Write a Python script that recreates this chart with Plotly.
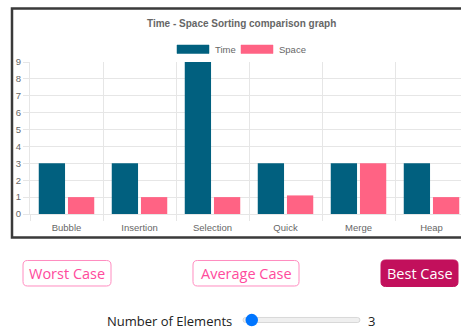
import plotly.graph_objects as go

categories = ["Bubble", "Insertion", "Selection", "Quick", "Merge", "Heap"]
time_values = [3, 3, 9, 3, 3, 3]
space_values = [1, 1, 1, 1.1, 3, 1]
series_names = ["Time", "Space"]
y_ticks = [0, 1, 2, 3, 4, 5, 6, 7, 8, 9]
title_text = "Time - Space Sorting comparison graph"
button_labels = ["Worst Case", "Average Case", "Best Case"]
slider_label = "Number of Elements"
slider_value = 3

W, H = 461, 330
L, T, B = 30, 62, 116
PW = W - L
PH = H - T - B
CAT_W = 73.0

def px(x):
    return (x - L) / PW

def py(y):
    return (H - B - y) / PH

TIME_C = "#01607f"
SPACE_C = "#ff6384"
GRID = "#e6e6e6"
TXT = "#666666"

xs = list(range(len(categories)))
fig = go.Figure()
fig.add_trace(go.Bar(x=xs, y=time_values, name=series_names[0], marker=dict(color=TIME_C, line=dict(width=0))))
fig.add_trace(go.Bar(x=xs, y=space_values, name=series_names[1], marker=dict(color=SPACE_C, line=dict(width=0))))

xmax = -0.5 + PW / CAT_W
fig.update_layout(
    width=W, height=H, autosize=False,
    margin=dict(l=L, r=0, t=T, b=B, pad=0),
    paper_bgcolor="white", plot_bgcolor="white",
    barmode="group", bargap=0.2, bargroupgap=0.1,
    showlegend=False,
    font=dict(family="Liberation Sans, Arial, sans-serif", color=TXT, size=9.5),
    xaxis=dict(
        range=[-0.5, xmax], tickmode="array", tickvals=xs, ticktext=categories,
        showgrid=False, zeroline=False, ticks="", showline=True, linecolor=GRID, linewidth=1,
        tickfont=dict(size=9.5, color=TXT), ticklabelstandoff=5,
        minor=dict(tickmode="array", tickvals=[i - 0.5 for i in range(len(categories) + 1)],
                   showgrid=True, gridcolor=GRID, gridwidth=1, ticks="outside", ticklen=6,
                   tickcolor=GRID, tickwidth=1),
        fixedrange=True,
    ),
    yaxis=dict(
        range=[0, 9], tickmode="array", tickvals=y_ticks, showgrid=True, gridcolor=GRID, gridwidth=1,
        zeroline=False, showline=True, linecolor=GRID, linewidth=1, ticks="outside", ticklen=6,
        tickcolor=GRID, tickfont=dict(size=9.5, color=TXT), ticklabelstandoff=0,
        fixedrange=True,
    ),
)

shapes = []
ann = []

# container border
shapes.append(dict(type="rect", xref="paper", yref="paper", x0=px(12), x1=px(475), y0=py(8.5), y1=py(237.5),
                   line=dict(color="#3a3a3a", width=2.5), fillcolor="rgba(0,0,0,0)", layer="above"))

# title
ann.append(dict(xref="paper", yref="paper", x=px(241), y=py(23), text="<b>" + title_text + "</b>",
                showarrow=False, xanchor="center", yanchor="middle",
                font=dict(size=10, color=TXT, family="Liberation Sans, Arial, sans-serif")))

# legend
leg = [(177, 209, 213, series_names[0], TIME_C), (241, 273, 277, series_names[1], SPACE_C)]
for x0, x1, tx, name, col in leg:
    shapes.append(dict(type="rect", xref="paper", yref="paper", x0=px(x0), x1=px(x1), y0=py(45), y1=py(53.5),
                       fillcolor=col, line=dict(color=col, width=0.5)))
    ann.append(dict(xref="paper", yref="paper", x=px(tx), y=py(49.5), text=name, showarrow=False,
                    xanchor="left", yanchor="middle", font=dict(size=9.5, color=TXT)))

def rrect(x0, y0, x1, y1, r):
    pts = [
        ("M", [(x0 + r, y0)]),
        ("L", [(x1 - r, y0)]),
        ("Q", [(x1, y0), (x1, y0 + r)]),
        ("L", [(x1, y1 - r)]),
        ("Q", [(x1, y1), (x1 - r, y1)]),
        ("L", [(x0 + r, y1)]),
        ("Q", [(x0, y1), (x0, y1 - r)]),
        ("L", [(x0, y0 + r)]),
        ("Q", [(x0, y0), (x0 + r, y0)]),
    ]
    s = ""
    for cmd, ps in pts:
        s += cmd + " " + " ".join("%.5f,%.5f" % (px(a), py(b)) for a, b in ps) + " "
    return s + "Z"

# buttons
btns = [
    (23, 111, button_labels[0], False),
    (193, 299, button_labels[1], False),
    (381, 458, button_labels[2], True),
]
for x0, x1, lab, filled in btns:
    if filled:
        shapes.append(dict(type="path", xref="paper", yref="paper", path=rrect(x0, 260, x1, 286.5, 4.5),
                           fillcolor="#c2105c", line=dict(color="#c2105c", width=1)))
        col = "white"
    else:
        shapes.append(dict(type="path", xref="paper", yref="paper", path=rrect(x0, 260.5, x1, 286, 4.5),
                           fillcolor="white", line=dict(color="#ff8cc0", width=1)))
        col = "#ff4a9c"
    ann.append(dict(xref="paper", yref="paper", x=px((x0 + x1) / 2), y=py(273.5), text=lab, showarrow=False,
                    xanchor="center", yanchor="middle",
                    font=dict(size=14.5, color=col, family="Open Sans, sans-serif")))

# slider row
ann.append(dict(xref="paper", yref="paper", x=px(234), y=py(320.5), text=slider_label, showarrow=False,
                xanchor="right", yanchor="middle", font=dict(size=13, color="#222222", family="Open Sans, sans-serif")))
shapes.append(dict(type="path", xref="paper", yref="paper", path=rrect(243, 317.5, 360, 322.5, 2.5),
                   fillcolor="#efefef", line=dict(color="#cfcfcf", width=0.8)))
shapes.append(dict(type="circle", xref="paper", yref="paper", x0=px(245.5), x1=px(258), y0=py(313.8), y1=py(326.3),
                   fillcolor="#0075ff", line=dict(color="#0075ff", width=0)))
ann.append(dict(xref="paper", yref="paper", x=px(371.5), y=py(320.5), text=str(slider_value), showarrow=False,
                xanchor="center", yanchor="middle", font=dict(size=13, color="#222222", family="Open Sans, sans-serif")))

fig.update_layout(shapes=shapes, annotations=ann)
fig.write_html("out.html")
